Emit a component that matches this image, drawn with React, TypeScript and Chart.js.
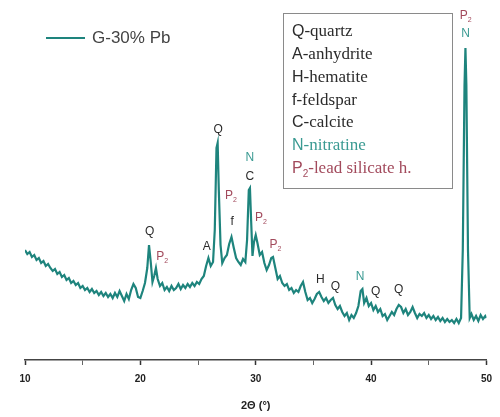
import React, { useEffect, useRef } from "react";
import { Chart, registerables } from "chart.js";

Chart.register(...registerables);

// ---- data ----
const seriesName = "G-30% Pb";

const twoTheta = [
  10.0, 10.2, 10.4, 10.6, 10.8, 11.0, 11.2, 11.4, 11.6, 11.8,
  12.0, 12.2, 12.4, 12.6, 12.8, 13.0, 13.2, 13.4, 13.6, 13.8,
  14.0, 14.2, 14.4, 14.6, 14.8, 15.0, 15.2, 15.4, 15.6, 15.8,
  16.0, 16.2, 16.4, 16.6, 16.8, 17.0, 17.2, 17.4, 17.6, 17.8,
  18.0, 18.2, 18.4, 18.6, 18.8, 19.0, 19.2, 19.4, 19.6, 19.8,
  20.0, 20.2, 20.4, 20.6, 20.75, 20.9, 21.05, 21.2, 21.35, 21.5,
  21.7, 21.9, 22.1, 22.3, 22.5, 22.7, 22.9, 23.1, 23.3, 23.5,
  23.7, 23.9, 24.1, 24.3, 24.5, 24.7, 24.9, 25.1, 25.3, 25.5,
  25.7, 25.9, 26.1, 26.3, 26.45, 26.6, 26.7, 26.8, 26.95, 27.1,
  27.3, 27.5, 27.7, 27.9, 28.1, 28.3, 28.5, 28.7, 28.9, 29.1,
  29.25, 29.4, 29.5, 29.6, 29.72, 29.85, 30.0, 30.15, 30.35, 30.55,
  30.75, 30.95, 31.15, 31.35, 31.5, 31.7, 31.9, 32.1, 32.3, 32.5,
  32.7, 32.9, 33.1, 33.3, 33.5, 33.7, 33.9, 34.1, 34.3, 34.5,
  34.7, 34.9, 35.1, 35.3, 35.5, 35.7, 35.9, 36.1, 36.3, 36.5,
  36.7, 36.9, 37.1, 37.3, 37.5, 37.7, 37.9, 38.1, 38.3, 38.5,
  38.7, 38.9, 39.1, 39.25, 39.4, 39.6, 39.8, 40.0, 40.2, 40.4,
  40.6, 40.8, 41.0, 41.2, 41.4, 41.6, 41.8, 42.0, 42.2, 42.4,
  42.6, 42.8, 43.0, 43.2, 43.4, 43.6, 43.8, 44.0, 44.2, 44.4,
  44.6, 44.8, 45.0, 45.2, 45.4, 45.6, 45.8, 46.0, 46.2, 46.4,
  46.6, 46.8, 47.0, 47.2, 47.4, 47.6, 47.8, 47.95, 48.1, 48.18,
  48.26, 48.4, 48.55, 48.7, 48.9, 49.1, 49.3, 49.5, 49.7, 49.9,
  50.0,
];

const intensity = [
  110, 106, 108, 103, 105, 100, 102, 97, 99, 94,
  96, 92, 89, 91, 86, 88, 83, 85, 80, 82,
  77, 79, 75, 77, 72, 74, 70, 72, 68, 71,
  67, 69, 65, 68, 64, 67, 63, 66, 62, 67,
  63, 69, 64, 59, 66, 61, 70, 76, 72, 63,
  62, 69, 77, 92, 115, 98, 78, 84, 92, 81,
  74, 77, 70, 73, 69, 74, 70, 72, 76, 71,
  75, 72, 76, 73, 77, 74, 78, 76, 81, 84,
  94, 102, 94, 98, 130, 212, 217, 170, 115, 97,
  102, 105, 116, 123, 112, 102, 98, 95, 101, 98,
  120, 170, 172, 140, 104, 118, 125, 117, 105, 108,
  97, 90, 95, 102, 103, 92, 81, 84, 77, 74,
  76, 70, 72, 67, 70, 68, 74, 78, 68, 60,
  62, 57, 61, 66, 68, 63, 59, 62, 57, 60,
  62, 55, 51, 54, 48, 44, 47, 40, 45, 42,
  47, 54, 69, 71, 57, 62, 54, 57, 50, 54,
  48, 51, 44, 46, 40, 44, 48, 45, 51, 55,
  53, 47, 51, 45, 48, 53, 47, 42, 46, 44,
  47, 42, 45, 41, 44, 40, 43, 39, 42, 38,
  41, 38, 40, 37, 41, 37, 42, 110, 275, 312,
  275, 110, 42, 46, 40, 44, 39, 45, 41, 44,
  42,
];

const xTickValues = [10, 20, 30, 40, 50];
const xTitle = "2Θ (°)";

// peak annotations: text, position (2θ) and label height (intensity units), phase kind
const peakText = ["Q", "P2", "A", "Q", "P2", "f", "N", "C", "P2", "P2", "H", "Q", "N", "Q", "Q", "P2", "N"];
const peakTheta = [20.8, 21.9, 25.75, 26.75, 27.85, 27.95, 29.5, 29.5, 30.45, 31.7, 35.6, 36.9, 39.05, 40.4, 42.4, 48.2, 48.2];
const peakLevel = [128, 103, 113, 230, 164, 138, 202, 183, 142, 115, 80, 73, 83, 68, 70, 344, 326];
const peakKind = ["o", "p", "o", "o", "p", "o", "n", "o", "p", "p", "o", "o", "n", "o", "o", "p", "n"];

const phaseKey = ["Q", "A", "H", "f", "C", "N", "P2"];
const phaseName = ["quartz", "anhydrite", "hematite", "feldspar", "calcite", "nitratine", "lead silicate h."];
const phaseKind = ["o", "o", "o", "o", "o", "n", "p"];

// ---- styles ----
const LINE = "#1e847d";
const KIND_COLOR: Record<string, string> = { o: "#2b2b2b", n: "#3a9a92", p: "#a24a5c" };

function drawKey(ctx: CanvasRenderingContext2D, key: string, x: number, y: number, size: number, align: "left" | "center") {
  const isSub = key.length > 1;
  const main = key[0];
  ctx.font = `${size}px "Liberation Sans", Arial, sans-serif`;
  const wMain = ctx.measureText(main).width;
  let wSub = 0;
  const subSize = Math.round(size * 0.62);
  if (isSub) {
    ctx.font = `${subSize}px "Liberation Sans", Arial, sans-serif`;
    wSub = ctx.measureText(key.slice(1)).width;
  }
  const total = wMain + wSub;
  const x0 = align === "center" ? x - total / 2 : x;
  ctx.textAlign = "left";
  ctx.textBaseline = "middle";
  ctx.font = `${size}px "Liberation Sans", Arial, sans-serif`;
  ctx.fillText(main, x0, y);
  if (isSub) {
    ctx.font = `${subSize}px "Liberation Sans", Arial, sans-serif`;
    ctx.fillText(key.slice(1), x0 + wMain, y + size * 0.35);
  }
  return total;
}

const annotPlugin = {
  id: "xrdAnnotations",
  afterDatasetsDraw(chart: any) {
    const ctx: CanvasRenderingContext2D = chart.ctx;
    const xs = chart.scales.x;
    const ys = chart.scales.y;
    ctx.save();

    // peak labels
    for (let i = 0; i < peakText.length; i++) {
      const px = xs.getPixelForValue(peakTheta[i]);
      const py = ys.getPixelForValue(peakLevel[i]);
      ctx.fillStyle = KIND_COLOR[peakKind[i]];
      drawKey(ctx, peakText[i], px, py, 12, "center");
    }

    // series legend (top left)
    ctx.strokeStyle = LINE;
    ctx.lineWidth = 2;
    ctx.beginPath();
    ctx.moveTo(46, 38);
    ctx.lineTo(85, 38);
    ctx.stroke();
    ctx.fillStyle = "#444";
    ctx.font = `17px "Liberation Sans", Arial, sans-serif`;
    ctx.textAlign = "left";
    ctx.textBaseline = "middle";
    ctx.fillText(seriesName, 92, 38);

    // phase key box
    ctx.strokeStyle = "#8a8a8a";
    ctx.lineWidth = 1;
    ctx.strokeRect(283.5, 13.5, 169, 175);
    const size = 17;
    for (let i = 0; i < phaseKey.length; i++) {
      const y = 32 + i * 22.7;
      ctx.fillStyle = KIND_COLOR[phaseKind[i]];
      const w = drawKey(ctx, phaseKey[i], 292, y, size - 1, "left");
      ctx.font = `${size}px "Liberation Serif", "DejaVu Serif", serif`;
      ctx.textAlign = "left";
      ctx.textBaseline = "middle";
      ctx.fillText("-" + phaseName[i], 292 + w, y);
    }
    ctx.restore();
  },
};

export default function App() {
  const canvasRef = useRef<HTMLCanvasElement | null>(null);

  useEffect(() => {
    const canvas = canvasRef.current;
    if (!canvas) return;
    const points = twoTheta.map((t, i) => ({ x: t, y: intensity[i] }));
    const chart = new Chart(canvas, {
      type: "line",
      data: {
        datasets: [
          {
            label: seriesName,
            data: points,
            borderColor: LINE,
            backgroundColor: LINE,
            borderWidth: 2.2,
            pointRadius: 0,
            tension: 0,
            fill: false,
          },
        ],
      },
      options: {
        responsive: false,
        animation: false,
        layout: { padding: { left: 25, right: 13, top: 10, bottom: 0 } },
        plugins: {
          legend: { display: false },
          tooltip: { enabled: false },
        },
        scales: {
          x: {
            type: "linear",
            min: 10,
            max: 50,
            afterFit: (scale: any) => {
              scale.height = 57;
            },
            afterBuildTicks: (scale: any) => {
              const t: any[] = [];
              for (let i = 0; i < xTickValues.length; i++) {
                t.push({ value: xTickValues[i] });
                if (i < xTickValues.length - 1) t.push({ value: (xTickValues[i] + xTickValues[i + 1]) / 2 });
              }
              scale.ticks = t;
            },
            ticks: {
              padding: 8,
              maxRotation: 0,
              autoSkip: false,
              color: "#222",
              font: { family: '"Liberation Sans", Arial, sans-serif', size: 10, weight: "bold" },
              callback: (v: any) => (xTickValues.includes(Number(v)) ? String(v) : ""),
            },
            grid: {
              display: true,
              drawOnChartArea: false,
              drawTicks: true,
              tickLength: 5,
              tickColor: (c: any) => (c.tick && xTickValues.includes(c.tick.value) ? "#333" : "#666"),
              tickWidth: (c: any) => (c.tick && xTickValues.includes(c.tick.value) ? 1.5 : 1),
            },
            border: { display: true, color: "#444", width: 1.5 },
            title: {
              display: true,
              text: xTitle,
              color: "#222",
              font: { family: '"Liberation Sans", Arial, sans-serif', size: 11, weight: "bold" },
              padding: { top: 4, bottom: 4 },
            },
          },
          y: {
            display: false,
            min: 0,
            max: 350,
          },
        },
      },
      plugins: [annotPlugin],
    });
    return () => chart.destroy();
  }, []);

  return (
    <div style={{ position: "absolute", left: 0, top: 0, width: 500, height: 417, background: "#fff" }}>
      <canvas ref={canvasRef} width={500} height={417} style={{ display: "block" }} />
    </div>
  );
}
